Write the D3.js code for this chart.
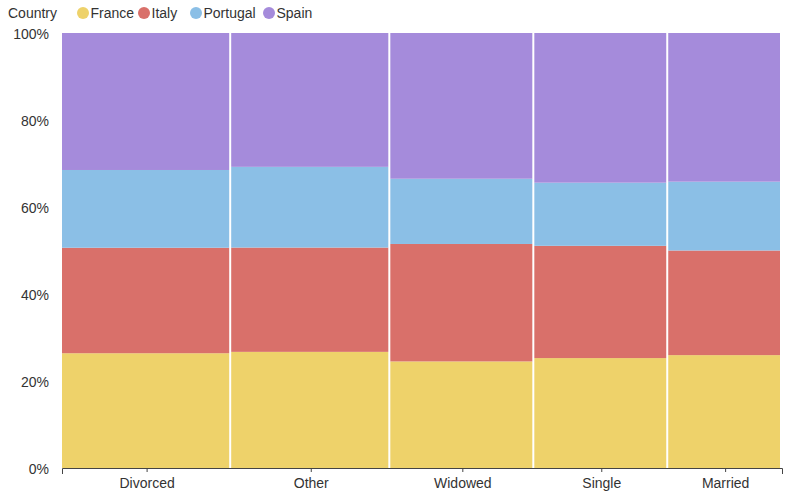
<!DOCTYPE html>
<html><head><meta charset="utf-8">
<script src="https://cdn.jsdelivr.net/npm/d3@7"></script>
<style>body{margin:0;background:#fff;font-family:Arial,"Liberation Sans",sans-serif;}</style>
</head><body><svg id="c" width="800" height="500"></svg>
<script>
const statuses = ["Divorced","Other","Widowed","Single","Married"];
const countries = ["France","Italy","Portugal","Spain"];
const France   = [62, 59, 49, 47, 41];
const Italy    = [57, 53, 54, 48, 38];
const Portugal = [42, 41, 30, 27, 25];
const Spain    = [74, 68, 67, 64, 54];
const colors = ["#eed26a","#d9706a","#8bbfe6","#a58bdb"];
const yTicks = [0,0.2,0.4,0.6,0.8,1];

const series = {France, Italy, Portugal, Spain};
const svg = d3.select("#c");
const m = {l:62, r:18, t:33, b:32};
const W = 800, H = 500;
const FS = "14px";
const FF = "Arial,'Liberation Sans',sans-serif";
const totals = statuses.map((s,i)=>d3.sum(countries,c=>series[c][i]));
const grand = d3.sum(totals);
const x = d3.scaleLinear().domain([0,grand]).range([m.l, W-m.r]);
const y = d3.scaleLinear().domain([0,1]).range([H-m.b, m.t]);
const color = d3.scaleOrdinal().domain(countries).range(colors);

let acc = 0;
const cols = statuses.map((s,i)=>{const c={s,i,x0:acc,x1:acc+totals[i]}; acc+=totals[i]; return c;});

cols.forEach(col=>{
  let cum = 0;
  countries.forEach(c=>{
    const v = series[c][col.i]/totals[col.i];
    svg.append("rect")
      .attr("x", x(col.x0))
      .attr("width", x(col.x1)-x(col.x0)-2)
      .attr("y", y(cum+v))
      .attr("height", y(cum)-y(cum+v))
      .attr("fill", color(c));
    cum += v;
  });
});

const xa = svg.append("g").attr("transform",`translate(0,${H-m.b})`)
  .call(d3.axisBottom(x).tickValues(cols.map(c=>(c.x0+c.x1)/2)).tickFormat((d,i)=>statuses[i]).tickSize(4).tickSizeOuter(6).tickPadding(6));
xa.select(".domain").attr("stroke","#444");
xa.selectAll(".tick line").attr("stroke","#444");
xa.selectAll("text").attr("fill","#333").style("font-size",FS).style("font-family",FF);

const ya = svg.append("g").attr("transform",`translate(${m.l},0)`)
  .call(d3.axisLeft(y).tickValues(yTicks).tickFormat(d3.format(".0%")).tickSize(0).tickPadding(13));
ya.select(".domain").remove();
ya.selectAll("text").attr("fill","#333").attr("dy","0.42em").style("font-size",FS).style("font-family",FF);

const lg = svg.append("g").attr("transform","translate(0,13)");
lg.append("text").attr("x",8).attr("y",0).attr("dy","0.35em").attr("fill","#333").style("font-size",FS).style("font-family",FF).text("Country");
const lx = [83,144,196,269];
countries.forEach((c,i)=>{
  lg.append("circle").attr("cx",lx[i]).attr("cy",0).attr("r",6).attr("fill",color(c));
  lg.append("text").attr("x",lx[i]+7.5).attr("y",0).attr("dy","0.35em").attr("fill","#333").style("font-size",FS).style("font-family",FF).text(c);
});
</script></body></html>
